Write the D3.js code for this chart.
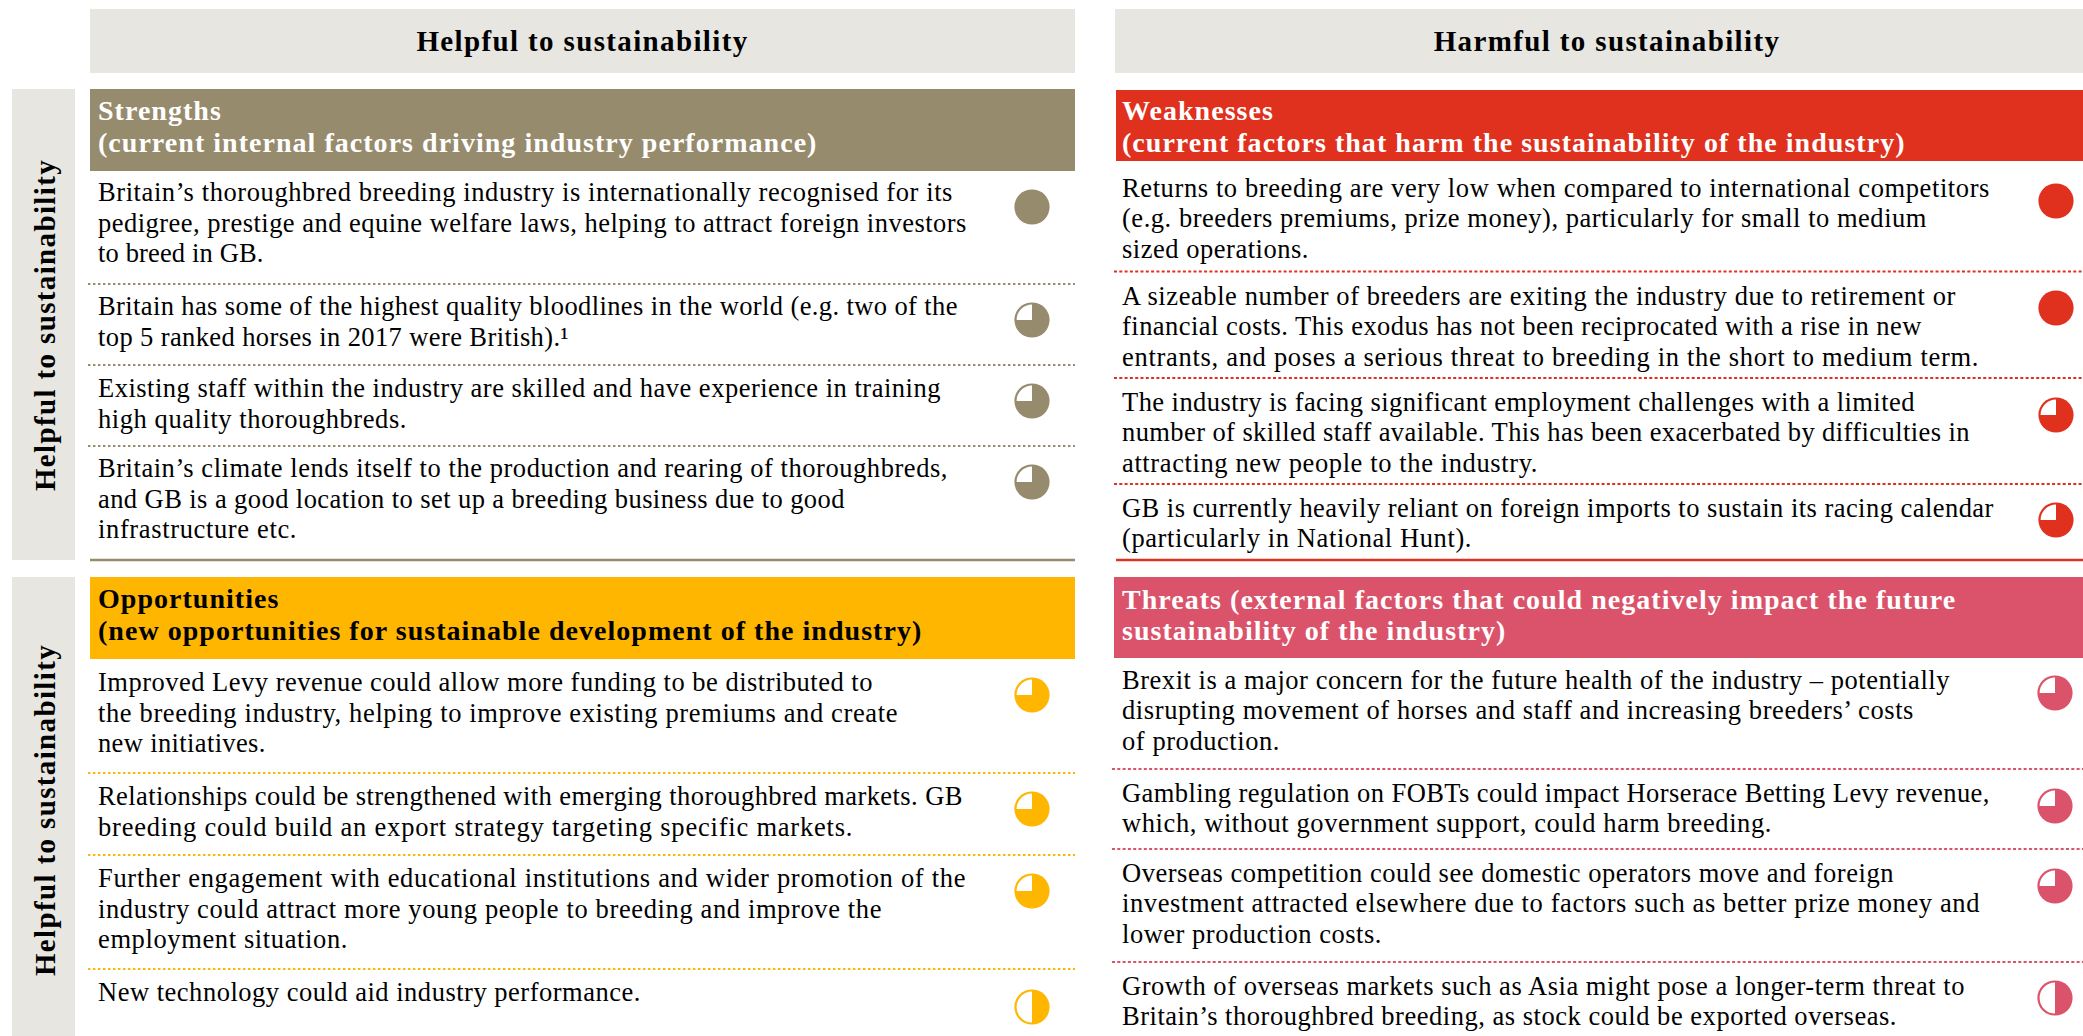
<!DOCTYPE html>
<meta charset="utf-8">
<style>
body {
  margin: 0;
  background: #fff;
}
text {
  font-family: "Liberation Serif", serif;
  font-size: 26.5px;
  letter-spacing: 0.57px;
  fill: #000;
}
.head {
  font-weight: bold;
  font-size: 28px;
  letter-spacing: 1.03px;
}
.big {
  font-weight: bold;
  font-size: 29px;
  letter-spacing: 1.36px;
}
</style>
<body>
<script src="https://cdnjs.cloudflare.com/ajax/libs/d3/7.8.5/d3.min.js"></script>
<script>

var width = 2083,
    height = 1036;

// texts, one entry per line as broken in the picture
var columnTitles = ["Helpful to sustainability", "Harmful to sustainability"];
var sideTitles = ["Helpful to sustainability", "Helpful to sustainability"];

var strengthsTitle = ["Strengths", "(current internal factors driving industry performance)"];
var strengthsText = [
  ["Britain\u2019s thoroughbred breeding industry is internationally recognised for its",
   "pedigree, prestige and equine welfare laws, helping to attract foreign investors",
   "to breed in GB."],
  ["Britain has some of the highest quality bloodlines in the world (e.g. two of the",
   "top 5 ranked horses in 2017 were British).\u00b9"],
  ["Existing staff within the industry are skilled and have experience in training",
   "high quality thoroughbreds."],
  ["Britain\u2019s climate lends itself to the production and rearing of thoroughbreds,",
   "and GB is a good location to set up a breeding business due to good",
   "infrastructure etc."]
];
var strengthsBalls = [1, 0.75, 0.75, 0.75];

var weaknessesTitle = ["Weaknesses", "(current factors that harm the sustainability of the industry)"];
var weaknessesText = [
  ["Returns to breeding are very low when compared to international competitors",
   "(e.g. breeders premiums, prize money), particularly for small to medium",
   "sized operations."],
  ["A sizeable number of breeders are exiting the industry due to retirement or",
   "financial costs. This exodus has not been reciprocated with a rise in new",
   "entrants, and poses a serious threat to breeding in the short to medium term."],
  ["The industry is facing significant employment challenges with a limited",
   "number of skilled staff available. This has been exacerbated by difficulties in",
   "attracting new people to the industry."],
  ["GB is currently heavily reliant on foreign imports to sustain its racing calendar",
   "(particularly in National Hunt)."]
];
var weaknessesBalls = [1, 1, 0.75, 0.75];

var opportunitiesTitle = ["Opportunities", "(new opportunities for sustainable development of the industry)"];
var opportunitiesText = [
  ["Improved Levy revenue could allow more funding to be distributed to",
   "the breeding industry, helping to improve existing premiums and create",
   "new initiatives."],
  ["Relationships could be strengthened with emerging thoroughbred markets. GB",
   "breeding could build an export strategy targeting specific markets."],
  ["Further engagement with educational institutions and wider promotion of the",
   "industry could attract more young people to breeding and improve the",
   "employment situation."],
  ["New technology could aid industry performance."]
];
var opportunitiesBalls = [0.75, 0.75, 0.75, 0.5];

var threatsTitle = ["Threats (external factors that could negatively impact the future",
                    "sustainability of the industry)"];
var threatsText = [
  ["Brexit is a major concern for the future health of the industry \u2013 potentially",
   "disrupting movement of horses and staff and increasing breeders\u2019 costs",
   "of production."],
  ["Gambling regulation on FOBTs could impact Horserace Betting Levy revenue,",
   "which, without government support, could harm breeding."],
  ["Overseas competition could see domestic operators move and foreign",
   "investment attracted elsewhere due to factors such as better prize money and",
   "lower production costs."],
  ["Growth of overseas markets such as Asia might pose a longer-term threat to",
   "Britain\u2019s thoroughbred breeding, as stock could be exported overseas."]
];
var threatsBalls = [0.75, 0.75, 0.75, 0.5];

// layout. lineW is the set width of each text line
var panels = [
  {title: strengthsTitle, rows: strengthsText, balls: strengthsBalls, color: "#978b6d", titleColor: "#fff",
   x0: 90, x1: 1075, top: 89, bottom: 171, textX: 98, titleY: [120, 152], lineH: 30.6,
   lineW: [[855, 869, 166], [860, 471], [843, 309], [850, 747, 199]],
   rowY: [201, 315, 397, 477], ballX: 1032, ballY: [207, 320, 401, 482], rules: [284, 365, 446], endRule: 560, dash: "2.4,2.6"},
  {title: weaknessesTitle, rows: weaknessesText, balls: weaknessesBalls, color: "#e0301e", titleColor: "#fff",
   x0: 1116, x1: 2083, top: 90, bottom: 161, textX: 1122, titleY: [120, 152], lineH: 30.4,
   lineW: [[868, 805, 187], [834, 800, 857], [793, 848, 416], [872, 350]],
   rowY: [197, 305, 411, 517], ballX: 2056, ballY: [201, 308, 415, 520], rules: [271.5, 378, 484], endRule: 560, dash: "3,2.3"},
  {title: opportunitiesTitle, rows: opportunitiesText, balls: opportunitiesBalls, color: "#ffb600", titleColor: "#000",
   x0: 90, x1: 1075, top: 577, bottom: 659, textX: 98, titleY: [608, 640], lineH: 30.6,
   lineW: [[775, 800, 168], [865, 755], [868, 784, 250], [543]],
   rowY: [691, 805, 887, 1001], ballX: 1032, ballY: [695, 809, 891, 1007], rules: [773, 855, 969], endRule: null, dash: "2.4,2.6"},
  {title: threatsTitle, rows: threatsText, balls: threatsBalls, color: "#db536a", titleColor: "#fff",
   x0: 1114, x1: 2083, top: 577, bottom: 658, textX: 1122, titleY: [609, 640], lineH: 30.4,
   lineW: [[828, 792, 158], [868, 650], [772, 858, 260], [843, 775]],
   rowY: [689, 802, 882, 995], ballX: 2055, ballY: [693, 806, 886, 998], rules: [769, 849, 962], endRule: null, dash: "3,2.3"}
];

var grey = "#e7e6e1";
var ballR = 17.6,
    ringW = 2.2;

var svg = d3.select("body").append("svg")
    .attr("width", width)
    .attr("height", height)
    .style("display", "block");

// column headers
var columnBands = [[90, 1075], [1115, 2083]];
svg.selectAll(".columnBand")
    .data(columnTitles)
  .enter().append("rect")
    .attr("class", "columnBand")
    .attr("x", function(d, i) { return columnBands[i][0]; })
    .attr("y", 9)
    .attr("width", function(d, i) { return columnBands[i][1] - columnBands[i][0]; })
    .attr("height", 64)
    .attr("fill", grey);

var columnCenters = [582.5, 1607];
svg.selectAll(".columnTitle")
    .data(columnTitles)
  .enter().append("text")
    .attr("class", "columnTitle big")
    .attr("x", function(d, i) { return columnCenters[i]; })
    .attr("y", 51)
    .attr("text-anchor", "middle")
    .text(function(d) { return d; });

// side bands
var sideBands = [[89, 560], [577, 1036]];
var sideCenters = [325, 810];
svg.selectAll(".sideBand")
    .data(sideTitles)
  .enter().append("rect")
    .attr("class", "sideBand")
    .attr("x", 12)
    .attr("y", function(d, i) { return sideBands[i][0]; })
    .attr("width", 63)
    .attr("height", function(d, i) { return sideBands[i][1] - sideBands[i][0]; })
    .attr("fill", grey);

svg.selectAll(".sideTitle")
    .data(sideTitles)
  .enter().append("text")
    .attr("class", "sideTitle big")
    .attr("transform", function(d, i) { return "translate(54.5," + sideCenters[i] + ") rotate(-90)"; })
    .attr("text-anchor", "middle")
    .text(function(d) { return d; });

// harvey balls: the white wedge runs from the filled share round to the top
var angle = d3.scaleLinear().domain([0, 1]).range([0, 2 * Math.PI]);
var wedge = d3.arc()
    .innerRadius(0)
    .outerRadius(ballR - ringW)
    .startAngle(function(d) { return angle(d); })
    .endAngle(angle(1));

panels.forEach(function(p) {

  var g = svg.append("g");

  g.append("rect")
      .attr("x", p.x0)
      .attr("y", p.top)
      .attr("width", p.x1 - p.x0)
      .attr("height", p.bottom - p.top)
      .attr("fill", p.color);

  g.selectAll(".title")
      .data(p.title)
    .enter().append("text")
      .attr("class", "title head")
      .attr("x", p.textX)
      .attr("y", function(d, i) { return p.titleY[i]; })
      .style("fill", p.titleColor)
      .text(function(d) { return d; });

  p.rows.forEach(function(lines, r) {
    g.selectAll(".row" + r)
        .data(lines)
      .enter().append("text")
        .attr("class", "row" + r)
        .attr("x", p.textX)
        .attr("y", function(d, i) { return p.rowY[r] + i * p.lineH; })
        .attr("textLength", function(d, i) { return p.lineW[r][i]; })
        .attr("lengthAdjust", "spacing")
        .text(function(d) { return d; });
  });

  g.selectAll(".rule")
      .data(p.rules)
    .enter().append("line")
      .attr("class", "rule")
      .attr("x1", p.x0 - 2)
      .attr("x2", p.x1)
      .attr("y1", function(d) { return d; })
      .attr("y2", function(d) { return d; })
      .attr("stroke", p.color)
      .attr("stroke-width", 2.2)
      .attr("stroke-dasharray", p.dash);

  if (p.endRule) {
    g.append("line")
        .attr("x1", p.x0)
        .attr("x2", p.x1)
        .attr("y1", p.endRule)
        .attr("y2", p.endRule)
        .attr("stroke", p.color)
        .attr("stroke-width", 2.6);
  }

  var ball = g.selectAll(".ball")
      .data(p.balls)
    .enter().append("g")
      .attr("class", "ball")
      .attr("transform", function(d, i) { return "translate(" + p.ballX + "," + p.ballY[i] + ")"; });

  ball.append("circle")
      .attr("r", ballR)
      .attr("fill", p.color);

  ball.filter(function(d) { return d < 1; })
    .append("path")
      .attr("d", wedge)
      .attr("fill", "#fff");
});

</script>
